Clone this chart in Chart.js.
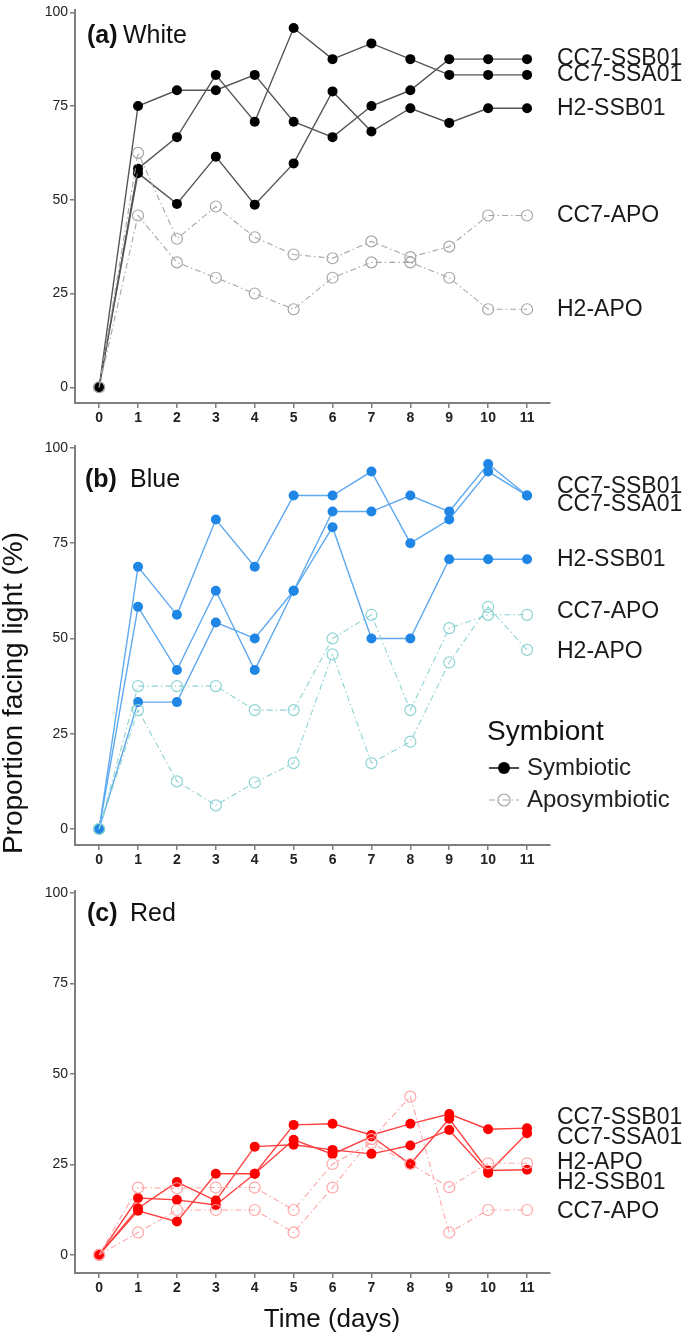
<!DOCTYPE html>
<html>
<head>
<meta charset="utf-8">
<script src="https://cdn.jsdelivr.net/npm/chart.js@4.4.0/dist/chart.umd.min.js"></script>
<style>
    body { margin: 0; background: #fff; }
    #wrap { position: relative; width: 685px; height: 1335px; }
    canvas { position: absolute; left: 0; }
</style>
</head>
<body>
<div id="wrap">
    <canvas id="white" width="685" height="430" style="top:0px"></canvas>
    <canvas id="blue" width="685" height="440" style="top:430px"></canvas>
    <canvas id="red" width="685" height="465" style="top:870px"></canvas>
</div>
<script>
// days and tick values
const days = [0, 1, 2, 3, 4, 5, 6, 7, 8, 9, 10, 11];
const pctTicks = [0, 25, 50, 75, 100];
const strains = ['CC7-SSB01', 'CC7-SSA01', 'H2-SSB01', 'CC7-APO', 'H2-APO'];

// (a) White
const whiteCC7SSB01 = [0, 75, 79.2, 79.2, 83.3, 70.8, 66.7, 75, 79.2, 87.5, 87.5, 87.5];
const whiteCC7SSA01 = [0, 58.3, 66.7, 83.3, 70.8, 95.8, 87.5, 91.7, 87.5, 83.3, 83.3, 83.3];
const whiteH2SSB01 = [0, 57.1, 48.9, 61.5, 48.7, 59.7, 78.9, 68.2, 74.4, 70.5, 74.4, 74.4];
const whiteCC7APO = [0, 62.5, 39.6, 48.2, 40, 35.4, 34.4, 38.9, 34.7, 37.5, 45.8, 45.8];
const whiteH2APO = [0, 45.8, 33.3, 29.2, 25, 20.8, 29.2, 33.3, 33.3, 29.2, 20.8, 20.8];
const whiteLabelAt = [87.5, 83.3, 74.4, 45.8, 20.8];

// (b) Blue
const blueCC7SSB01 = [0, 68.8, 56.2, 81.2, 68.8, 87.5, 87.5, 93.8, 75, 81.2, 93.8, 87.5];
const blueCC7SSA01 = [0, 58.3, 41.7, 62.5, 41.7, 62.5, 83.3, 83.3, 87.5, 83.3, 95.8, 87.5];
const blueH2SSB01 = [0, 33.3, 33.3, 54.2, 50, 62.5, 79.2, 50, 50, 70.8, 70.8, 70.8];
const blueCC7APO = [0, 37.5, 37.5, 37.5, 31.2, 31.2, 50, 56.2, 31.2, 52.7, 56.2, 56.2];
const blueH2APO = [0, 31.2, 12.5, 6.2, 12.2, 17.3, 45.8, 17.3, 22.9, 43.7, 58.3, 47];
const blueLabelAt = [89.8, 85, 70.6, 57, 46.5];

// (c) Red
const redCC7SSB01 = [0, 12.2, 9.2, 22.4, 22.4, 35.9, 36.2, 33.1, 36.2, 38.9, 34.7, 35];
const redCC7SSA01 = [0, 12.9, 20.1, 15, 29.9, 30.4, 29, 27.9, 30.2, 34.5, 22.6, 33.6];
const redH2SSB01 = [0, 15.7, 15.2, 13.8, 22.4, 31.8, 27.8, 32.7, 25.1, 37.6, 23.3, 23.5];
const redCC7APO = [0, 6.2, 12.4, 12.4, 12.4, 6.2, 18.6, 32, 43.7, 6.2, 12.4, 12.4];
const redH2APO = [0, 18.6, 18.4, 18.6, 18.6, 12.4, 25.1, 30.9, 25.1, 18.7, 25.3, 25.3];
const redLabelAt = [37.8, 32.3, 25.5, 19.9, 12];
const redLabelOrder = ['CC7-SSB01', 'CC7-SSA01', 'H2-APO', 'H2-SSB01', 'CC7-APO'];

const FONT = "'Liberation Sans', Arial, sans-serif";

function text(ctx, str, x, y, font, color, align, base) {
    ctx.save();
    ctx.font = font;
    ctx.fillStyle = color;
    ctx.textAlign = align || 'left';
    ctx.textBaseline = base || 'alphabetic';
    ctx.fillText(str, x, y);
    ctx.restore();
}

function renderPanel(id, p) {
    let order = [3, 4, 0, 1, 2];
    let datasets = order.map((k) => {
        let sym = k < 3;
        return {
            label: strains[k],
            data: p.values[k].map((v, i) => ({x: days[i], y: v})),
            borderColor: sym ? p.line : p.apo,
            borderWidth: sym ? 1.4 : 1.1,
            borderDash: sym ? [] : [6, 3, 1.5, 3],
            pointRadius: sym ? 5 : 5.5,
            pointHoverRadius: sym ? 5 : 5.5,
            pointBackgroundColor: sym ? p.dot : 'rgba(255,255,255,0)',
            pointBorderColor: sym ? p.dot : p.apo,
            pointBorderWidth: sym ? 0 : 1.2,
            tension: 0
        };
    });

    let panelText = {
        id: 'panelText',
        afterDraw(chart) {
            let ctx = chart.ctx;
            let ys = chart.scales.y;
            text(ctx, p.tag, p.tagX, p.titleY, 'bold 25px ' + FONT, '#111');
            text(ctx, p.word, p.wordX, p.titleY, '25px ' + FONT, '#111');
            p.labelAt.forEach((v, i) => {
                text(ctx, p.labelNames[i], 557, ys.getPixelForValue(v), '23px ' + FONT, '#1a1a1a', 'left', 'middle');
            });
            if (p.extra) p.extra(ctx, chart);
        }
    };

    new Chart(document.getElementById(id), {
        type: 'line',
        data: {datasets: datasets},
        options: {
            responsive: false,
            animation: false,
            devicePixelRatio: 1,
            layout: {padding: {top: p.padTop, right: 135, left: 0, bottom: 0}},
            plugins: {legend: {display: false}, tooltip: {enabled: false}},
            scales: {
                x: {
                    type: 'linear',
                    min: -0.62,
                    max: 11.59,
                    afterBuildTicks: (s) => { s.ticks = days.map((v) => ({value: v})); },
                    afterFit: (s) => { s.height = p.xHeight; },
                    grid: {drawOnChartArea: false, tickLength: 5, color: '#7f7f7f', lineWidth: 1.5},
                    border: {color: '#7f7f7f', width: 2},
                    ticks: {font: {family: FONT, size: 14, weight: 'bold'}, color: '#222', padding: 2, maxRotation: 0, autoSkip: false}
                },
                y: {
                    min: p.yMin,
                    max: 100.5,
                    afterBuildTicks: (s) => { s.ticks = pctTicks.map((v) => ({value: v})); },
                    afterFit: (s) => { s.width = 75; },
                    grid: {drawOnChartArea: false, tickLength: 5, color: '#7f7f7f', lineWidth: 1.5},
                    border: {color: '#7f7f7f', width: 2},
                    ticks: {font: {family: FONT, size: 14}, color: '#222', padding: 2}
                }
            }
        },
        plugins: [panelText]
    });
}

renderPanel('white', {
    values: [whiteCC7SSB01, whiteCC7SSA01, whiteH2SSB01, whiteCC7APO, whiteH2APO],
    labelAt: whiteLabelAt, labelNames: strains,
    dot: '#000000', line: '#555555', apo: '#a6a6a6',
    tag: '(a)', word: 'White', tagX: 87, wordX: 123, titleY: 43,
    padTop: 5, xHeight: 27, yMin: -4.2
});

renderPanel('blue', {
    values: [blueCC7SSB01, blueCC7SSA01, blueH2SSB01, blueCC7APO, blueH2APO],
    labelAt: blueLabelAt, labelNames: strains,
    dot: '#1f86e6', line: '#5ea9ef', apo: '#8fd3d3',
    tag: '(b)', word: 'Blue', tagX: 85, wordX: 130, titleY: 57,
    padTop: 16, xHeight: 25, yMin: -4.2,
    extra: (ctx) => {
        // y axis title
        ctx.save();
        ctx.translate(14, 263);
        ctx.rotate(-Math.PI / 2);
        text(ctx, 'Proportion facing light (%)', 0, 0, '28px ' + FONT, '#111', 'center', 'middle');
        ctx.restore();
        // legend
        text(ctx, 'Symbiont', 487, 302, '28px ' + FONT, '#111', 'left', 'middle');
        ctx.save();
        ctx.strokeStyle = '#000';
        ctx.lineWidth = 1.4;
        ctx.beginPath(); ctx.moveTo(489, 338); ctx.lineTo(519, 338); ctx.stroke();
        ctx.fillStyle = '#000';
        ctx.beginPath(); ctx.arc(504, 338, 6, 0, Math.PI * 2); ctx.fill();
        ctx.strokeStyle = '#a6a6a6';
        ctx.setLineDash([6, 3, 1.5, 3]);
        ctx.lineWidth = 1.1;
        ctx.beginPath(); ctx.moveTo(489, 370); ctx.lineTo(519, 370); ctx.stroke();
        ctx.setLineDash([]);
        ctx.lineWidth = 1.2;
        ctx.beginPath(); ctx.arc(504, 370, 6, 0, Math.PI * 2); ctx.stroke();
        ctx.restore();
        text(ctx, 'Symbiotic', 527, 338, '24px ' + FONT, '#222', 'left', 'middle');
        text(ctx, 'Aposymbiotic', 527, 370, '24px ' + FONT, '#222', 'left', 'middle');
    }
});

renderPanel('red', {
    values: [redCC7SSB01, redCC7SSA01, redH2SSB01, redCC7APO, redH2APO],
    labelAt: redLabelAt, labelNames: redLabelOrder,
    dot: '#ff0000', line: '#ff4040', apo: '#ffa6a6',
    tag: '(c)', word: 'Red', tagX: 87, wordX: 130, titleY: 51,
    padTop: 21, xHeight: 62, yMin: -5,
    extra: (ctx) => {
        text(ctx, 'Time (days)', 332, 457, '26px ' + FONT, '#111', 'center', 'alphabetic');
    }
});
</script>
</body>
</html>
